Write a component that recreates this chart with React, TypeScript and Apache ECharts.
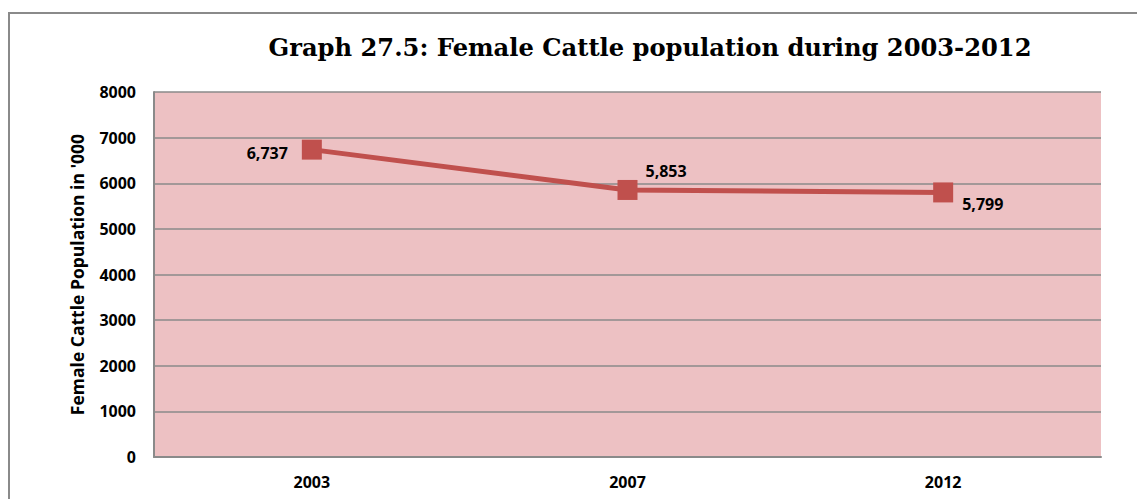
import React, { useEffect, useRef } from "react";
import * as echarts from "echarts";

const title = "Graph 27.5: Female Cattle population during 2003-2012";
const yAxisName = "Female Cattle Population in '000";
const years = ["2003", "2007", "2012"];
const population = [6737, 5853, 5799];
const yMin = 0;
const yMax = 8000;
const yStep = 1000;

const labelPlacement = [
  { position: "left", offset: [-14, 3] },
  { position: "right", offset: [8, -19] },
  { position: "right", offset: [9, 12] },
];

export default function App() {
  const ref = useRef<HTMLDivElement>(null);
  useEffect(() => {
    if (!ref.current) return;
    const chart = echarts.init(ref.current, null, { renderer: "svg" });
    const labelFont = {
      fontFamily: "Open Sans",
      fontWeight: "bold",
      fontSize: 16,
      color: "#000",
    };
    chart.setOption({
      animation: false,
      backgroundColor: "#ffffff",
      title: {
        text: title,
        left: 645,
        top: 30,
        textAlign: "center",
        textStyle: {
          fontFamily: "DejaVu Serif",
          fontWeight: "bold",
          fontSize: 24.2,
          color: "#000",
        },
      },
      graphic: [
        {
          type: "polyline",
          shape: { points: [[9, 499], [9, 13], [1137, 13]] },
          style: { stroke: "#8a8a8a", lineWidth: 2, fill: null },
          silent: true,
        },
      ],
      grid: {
        left: 154,
        right: 36,
        top: 92,
        bottom: 42,
        show: true,
        backgroundColor: "#edc1c3",
        borderWidth: 0,
      },
      xAxis: {
        type: "category",
        data: years,
        boundaryGap: true,
        axisLine: { lineStyle: { color: "#8a8a8a", width: 2 } },
        axisTick: { show: false },
        axisLabel: { ...labelFont, margin: 17 },
      },
      yAxis: {
        type: "value",
        min: yMin,
        max: yMax,
        interval: yStep,
        name: yAxisName,
        nameLocation: "middle",
        nameGap: 68,
        nameRotate: 90,
        nameTextStyle: { ...labelFont, fontSize: 17.5 },
        axisLine: { show: true, lineStyle: { color: "#8a8a8a", width: 2 } },
        axisTick: { show: false },
        axisLabel: {
          ...labelFont,
          margin: 18,
          formatter: (v: number) => String(v),
        },
        splitLine: { lineStyle: { color: "#8a8a8a", width: 1.5 } },
      },
      series: [
        {
          type: "line",
          data: population.map((v, i) => ({
            value: v,
            label: labelPlacement[i],
          })),
          symbol: "rect",
          symbolSize: 20,
          lineStyle: { color: "#c0504d", width: 5 },
          itemStyle: { color: "#c0504d" },
          label: {
            show: true,
            ...labelFont,
            distance: 0,
            formatter: (p: any) => p.value.toLocaleString("en-US"),
          },
        },
      ],
    });
    return () => chart.dispose();
  }, []);
  return (
    <div
      ref={ref}
      style={{ position: "absolute", left: 0, top: 0, width: 1137, height: 499 }}
    />
  );
}
